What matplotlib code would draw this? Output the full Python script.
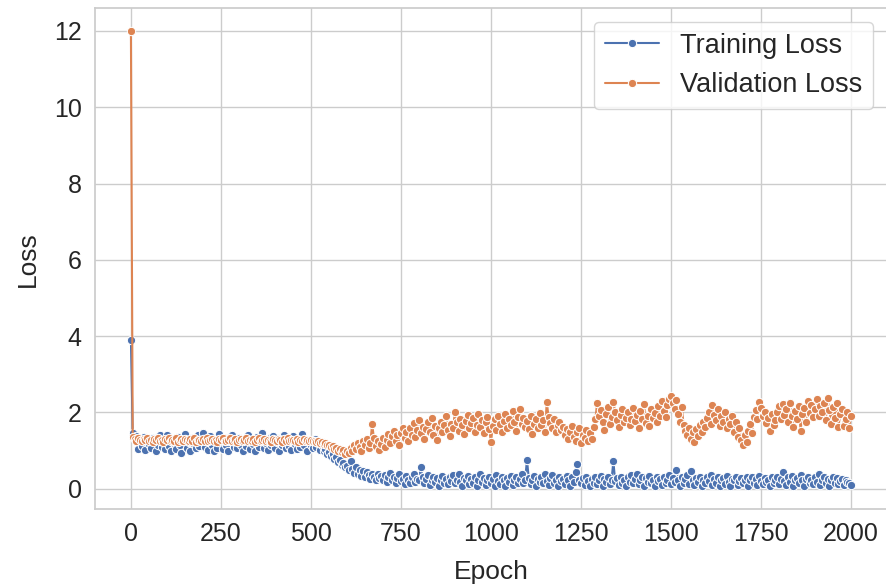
import numpy as np
import pandas as pd
import matplotlib
matplotlib.use("Agg")
import matplotlib.pyplot as plt
import seaborn as sns

# losses logged every 5 epochs
epochs = list(range(0, 2001, 5))

train_loss = [
    3.90, 1.45, 1.30, 1.38, 1.05, 1.22, 1.12, 1.35, 1.02, 1.28, 1.18, 1.08, 1.32, 1.25, 1.00, 1.15, 1.40, 1.10, 1.24, 1.05,
    1.42, 1.12, 0.98, 1.30, 1.20, 1.05, 1.36, 1.15, 0.95, 1.26, 1.44, 1.08, 1.22, 1.00, 1.34, 1.18, 1.06, 1.40, 1.12, 1.28,
    1.46, 1.10, 1.24, 1.02, 1.38, 1.16, 0.98, 1.30, 1.08, 1.44, 1.20, 1.04, 1.32, 1.14, 1.00, 1.26, 1.40, 1.10, 1.22, 1.06,
    1.34, 1.16, 0.98, 1.28, 1.12, 1.42, 1.04, 1.24, 1.18, 1.00, 1.36, 1.10, 1.26, 1.45, 1.06, 1.20, 1.02, 1.32, 1.14, 1.38,
    1.08, 1.22, 1.00, 1.34, 1.16, 1.42, 1.06, 1.28, 1.12, 1.02, 1.38, 1.18, 1.04, 1.30, 1.10, 1.44, 1.14, 1.24, 1.00, 1.26,
    1.16, 1.06, 1.30, 1.10, 1.20, 1.02, 1.14, 0.98, 1.04, 0.92, 0.96, 0.86, 0.90, 0.78, 0.84, 0.70, 0.76, 0.62, 0.68, 0.56,
    0.60, 0.48, 0.72, 0.52, 0.42, 0.58, 0.38, 0.50, 0.34, 0.46, 0.30, 0.44, 0.36, 0.26, 0.40, 0.32, 0.22, 0.38, 0.28, 0.34,
    0.24, 0.36, 0.18, 0.30, 0.42, 0.22, 0.32, 0.14, 0.28, 0.38, 0.20, 0.26, 0.12, 0.34, 0.24, 0.16, 0.30, 0.40, 0.18, 0.26,
    0.22, 0.56, 0.30, 0.14, 0.26, 0.36, 0.10, 0.24, 0.32, 0.18, 0.28, 0.08, 0.22, 0.34, 0.16, 0.26, 0.12, 0.30, 0.20, 0.36,
    0.14, 0.24, 0.40, 0.18, 0.08, 0.28, 0.22, 0.34, 0.12, 0.26, 0.16, 0.30, 0.06, 0.24, 0.38, 0.18, 0.28, 0.10, 0.22, 0.32,
    0.16, 0.26, 0.08, 0.36, 0.20, 0.12, 0.30, 0.24, 0.06, 0.28, 0.18, 0.34, 0.10, 0.22, 0.30, 0.14, 0.26, 0.38, 0.16, 0.24,
    0.76, 0.28, 0.12, 0.22, 0.34, 0.08, 0.26, 0.18, 0.30, 0.14, 0.40, 0.20, 0.10, 0.28, 0.36, 0.16, 0.24, 0.06, 0.30, 0.20,
    0.26, 0.12, 0.34, 0.22, 0.08, 0.30, 0.18, 0.44, 0.66, 0.24, 0.14, 0.28, 0.10, 0.32, 0.20, 0.06, 0.26, 0.16, 0.30, 0.12,
    0.22, 0.34, 0.08, 0.26, 0.18, 0.30, 0.12, 0.24, 0.72, 0.20, 0.28, 0.10, 0.32, 0.16, 0.24, 0.06, 0.30, 0.18, 0.36, 0.14,
    0.26, 0.38, 0.12, 0.22, 0.30, 0.08, 0.28, 0.18, 0.34, 0.14, 0.24, 0.06, 0.32, 0.20, 0.26, 0.10, 0.30, 0.16, 0.22, 0.36,
    0.12, 0.28, 0.18, 0.50, 0.24, 0.08, 0.30, 0.16, 0.26, 0.36, 0.12, 0.46, 0.22, 0.10, 0.28, 0.18, 0.32, 0.06, 0.24, 0.14,
    0.30, 0.20, 0.36, 0.10, 0.26, 0.16, 0.32, 0.08, 0.24, 0.28, 0.12, 0.34, 0.18, 0.06, 0.26, 0.22, 0.30, 0.10, 0.20, 0.28,
    0.14, 0.24, 0.32, 0.08, 0.22, 0.30, 0.16, 0.26, 0.10, 0.34, 0.20, 0.12, 0.28, 0.18, 0.24, 0.06, 0.30, 0.16, 0.22, 0.32,
    0.12, 0.26, 0.44, 0.20, 0.10, 0.30, 0.18, 0.34, 0.08, 0.24, 0.28, 0.14, 0.36, 0.22, 0.06, 0.26, 0.32, 0.16, 0.24, 0.12,
    0.30, 0.18, 0.40, 0.10, 0.24, 0.32, 0.14, 0.26, 0.08, 0.22, 0.30, 0.16, 0.28, 0.12, 0.20, 0.26, 0.10, 0.24, 0.18, 0.14,
    0.10,
]

val_loss = [
    12.0, 1.36, 1.30, 1.26, 1.32, 1.28, 1.24, 1.31, 1.27, 1.33, 1.25, 1.29, 1.22, 1.30, 1.27, 1.34, 1.26, 1.28, 1.23, 1.31,
    1.27, 1.32, 1.24, 1.29, 1.26, 1.33, 1.22, 1.28, 1.30, 1.25, 1.31, 1.27, 1.24, 1.30, 1.26, 1.32, 1.23, 1.29, 1.27, 1.25,
    1.30, 1.26, 1.33, 1.24, 1.28, 1.31, 1.25, 1.29, 1.22, 1.30, 1.27, 1.32, 1.26, 1.24, 1.29, 1.33, 1.25, 1.28, 1.30, 1.23,
    1.28, 1.31, 1.25, 1.27, 1.32, 1.24, 1.29, 1.26, 1.30, 1.23, 1.28, 1.33, 1.25, 1.27, 1.31, 1.24, 1.29, 1.26, 1.22, 1.30,
    1.27, 1.25, 1.31, 1.28, 1.23, 1.30, 1.26, 1.32, 1.24, 1.29, 1.27, 1.25, 1.30, 1.22, 1.28, 1.26, 1.31, 1.24, 1.27, 1.25,
    1.28, 1.24, 1.26, 1.22, 1.25, 1.20, 1.23, 1.17, 1.20, 1.14, 1.16, 1.10, 1.12, 1.05, 1.08, 1.00, 1.04, 0.96, 1.02, 0.92,
    1.00, 0.94, 1.08, 0.98, 1.14, 1.04, 1.20, 1.10, 0.98, 1.24, 1.14, 1.30, 1.06, 1.20, 1.70, 1.32, 1.12, 1.26, 1.02, 1.18,
    1.34, 1.10, 1.28, 1.44, 1.20, 1.38, 1.52, 1.26, 1.40, 1.16, 1.46, 1.58, 1.32, 1.48, 1.24, 1.60, 1.42, 1.72, 1.36, 1.54,
    1.80, 1.46, 1.62, 1.30, 1.56, 1.74, 1.50, 1.86, 1.40, 1.64, 1.28, 1.58, 1.76, 1.48, 1.66, 1.92, 1.54, 1.38, 1.70, 1.60,
    2.02, 1.76, 1.52, 1.84, 1.66, 1.44, 1.78, 1.94, 1.58, 1.72, 1.86, 1.50, 1.68, 1.96, 1.62, 1.80, 1.46, 1.74, 1.88, 1.56,
    1.22, 1.64, 1.82, 1.54, 1.90, 1.70, 1.48, 1.78, 1.96, 1.60, 1.84, 1.66, 2.04, 1.74, 1.52, 1.88, 2.10, 1.70, 1.86, 1.62,
    1.78, 1.56, 1.92, 1.44, 1.70, 1.84, 1.58, 1.98, 1.66, 1.80, 1.50, 2.28, 1.88, 1.72, 1.60, 1.82, 1.48, 1.66, 1.76, 1.54,
    1.62, 1.40, 1.56, 1.30, 1.50, 1.64, 1.36, 1.26, 1.48, 1.58, 1.20, 1.42, 1.34, 1.54, 1.24, 1.46, 1.30, 1.62, 1.82, 2.26,
    1.90, 2.06, 1.76, 1.54, 1.96, 2.14, 1.70, 1.88, 2.28, 2.02, 1.80, 1.62, 1.94, 2.10, 1.74, 1.86, 2.00, 1.66, 1.84, 2.12,
    1.78, 1.94, 1.60, 2.04, 1.84, 2.22, 1.72, 1.90, 1.64, 2.08, 1.86, 1.98, 1.76, 2.16, 1.92, 2.30, 2.04, 1.88, 2.20, 2.36,
    2.42, 2.24, 2.10, 2.32, 1.96, 1.76, 2.14, 1.68, 1.52, 1.40, 1.60, 1.30, 1.48, 1.22, 1.56, 1.38, 1.66, 1.50, 1.76, 1.62,
    1.86, 2.02, 1.70, 2.20, 1.94, 1.80, 2.08, 1.64, 1.90, 1.76, 2.00, 1.58, 1.84, 1.70, 1.92, 1.48, 1.74, 1.36, 1.60, 1.28,
    1.16, 1.40, 1.22, 1.52, 1.70, 1.46, 1.88, 2.06, 1.84, 2.28, 2.12, 1.90, 2.02, 1.72, 1.86, 1.52, 1.96, 1.68, 1.80, 2.00,
    2.16, 1.82, 2.22, 1.94, 2.08, 1.76, 2.26, 1.90, 1.62, 2.04, 1.84, 2.18, 1.52, 1.96, 2.12, 1.74, 2.30, 1.98, 2.20, 1.88,
    2.10, 2.34, 1.92, 2.18, 2.00, 2.26, 1.80, 2.38, 2.06, 1.70, 2.14, 1.86, 2.24, 1.62, 1.96, 2.08, 1.64, 1.84, 2.02, 1.60,
    1.92,
]

x_ticks = [0, 250, 500, 750, 1000, 1250, 1500, 1750, 2000]
y_ticks = [0, 2, 4, 6, 8, 10, 12]


def main():
    sns.set_theme(style="whitegrid")
    plt.rcParams["font.family"] = ["Liberation Sans", "DejaVu Sans"]

    df = pd.DataFrame({"epoch": epochs, "train": train_loss, "val": val_loss})

    fig = plt.figure(figsize=(8.87, 5.84), dpi=100)
    ax = fig.add_axes([0.107, 0.128, 0.893, 0.858])

    sns.lineplot(data=df, x="epoch", y="train", marker="o", label="Training Loss", ax=ax)
    sns.lineplot(data=df, x="epoch", y="val", marker="o", label="Validation Loss", ax=ax)

    ax.set_xticks(x_ticks)
    ax.set_yticks(y_ticks)
    ax.tick_params(labelsize=18)
    ax.set_xlabel("Epoch", fontsize=19, labelpad=10)
    ax.set_ylabel("Loss", fontsize=19, labelpad=10)
    ax.legend(loc="upper right", fontsize=19.5)

    fig.savefig("out.png", dpi=100)


if __name__ == "__main__":
    main()
